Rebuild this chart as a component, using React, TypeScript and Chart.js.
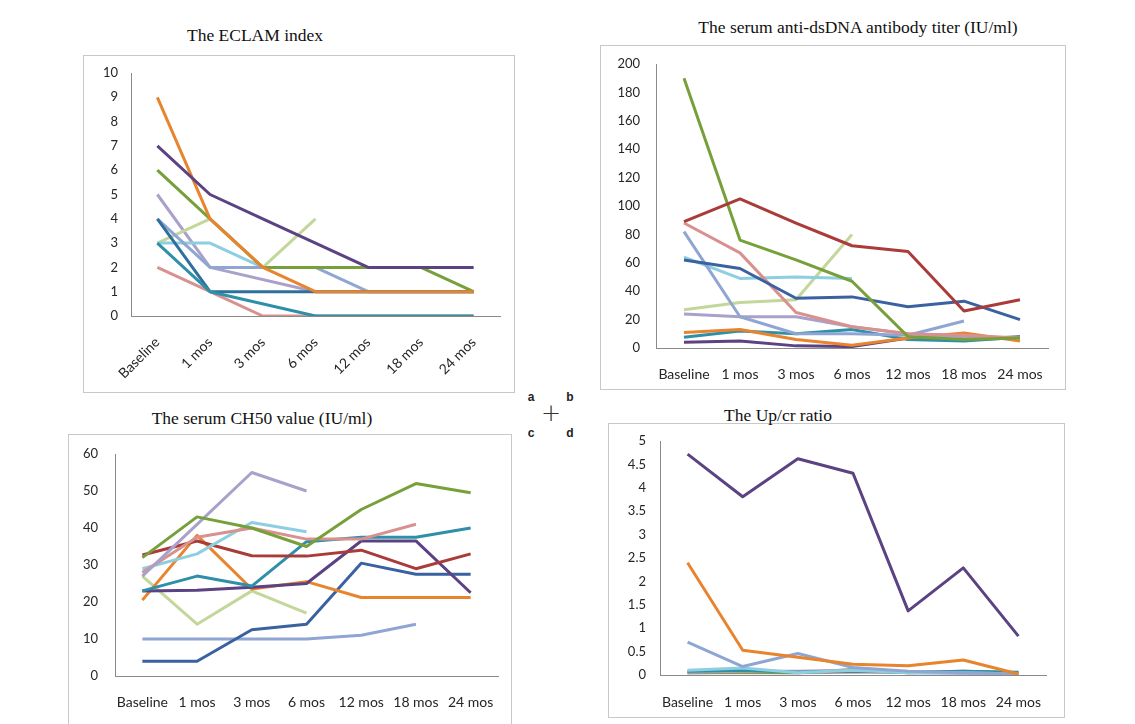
import React, { useEffect, useRef } from "react";
import { Chart, registerables } from "chart.js";

Chart.register(...registerables);

// ---------- categories ----------
const categories = ["Baseline", "1 mos", "3 mos", "6 mos", "12 mos", "18 mos", "24 mos"];

// ---------- (a) The ECLAM index ----------
const eclamPink = [2, 1, 0, 0, 0, 0, 0];
const eclamTeal = [3, 1, null, 0, 0, 0, 0];
const eclamLavender = [5, 2, null, 1, 1, 1, 1];
const eclamDarkBlue = [4, 1, 1, 1, 1, 1, 1];
const eclamPeriwinkle = [4, 2, 2, 2, 1, 1, 1];
const eclamSkyBlue = [3, 3, 2, 2, null, null, null];
const eclamLightGreen = [3, 4, 2, 4, null, null, null];
const eclamGreen = [6, 4, 2, 2, 2, 2, 1];
const eclamOrange = [9, 4, 2, 1, 1, 1, 1];
const eclamDarkPurple = [7, 5, 4, 3, 2, 2, 2];

// ---------- (b) anti-dsDNA antibody titer ----------
const dsdnaDarkPurple = [4, 5, 1.5, 1, 7, 6, 8];
const dsdnaTeal = [7.5, 12, 10, 13, 6, 5, 7.5];
const dsdnaOrange = [11, 13, 6, 2, 7, 10.5, 5];
const dsdnaLavender = [24, 22, 22, 15, 10, 8, 7];
const dsdnaLightGreen = [27, 32, 34, 80, null, null, null];
const dsdnaSkyBlue = [64, 49, 50, 49, null, null, null];
const dsdnaPeriwinkle = [82, 22, 10, 10, 9, 19, null];
const dsdnaPink = [88, 67, 25, 15, 10, 9, 7];
const dsdnaDarkBlue = [62, 56, 35, 36, 29, 33, 20];
const dsdnaGreen = [190, 76, 62, 47, 8, 6, 7];
const dsdnaDarkRed = [89, 105, 88, 72, 68, 26, 34];

// ---------- (c) CH50 value ----------
const ch50Periwinkle = [10, 10, 10, 10, 11, 14, null];
const ch50LightGreen = [27, 14, 23, 17, null, null, null];
const ch50DarkBlue = [4, 4, 12.5, 14, 30.5, 27.5, 27.5];
const ch50Orange = [20.5, 38, 23.5, 25.5, 21.2, 21.2, 21.2];
const ch50DarkPurple = [23, 23.2, 24, 25, 36.5, 36.5, 22.5];
const ch50Teal = [23, 27, 24.3, 36.3, 37.5, 37.5, 40];
const ch50DarkRed = [32.7, 36.5, 32.5, 32.4, 34, 29, 33];
const ch50SkyBlue = [29, 33, 41.5, 39, null, null, null];
const ch50Pink = [28, 37.5, 40, 37, 37, 41, null];
const ch50Lavender = [27, 41, 55, 50, null, null, null];
const ch50Green = [32, 43, 40, 35, 45, 52, 49.5];

// ---------- (d) Up/cr ratio ----------
const upcrPink = [0.05, 0.05, 0.05, 0.06, 0.06, 0.05, 0.05];
const upcrGreen = [0.05, 0.06, 0.05, 0.12, 0.05, 0.08, 0.05];
const upcrLavender = [0.06, 0.08, 0.08, 0.1, 0.05, 0.04, 0.03];
const upcrTeal = [0.08, 0.1, 0.06, 0.08, 0.06, 0.08, 0.06];
const upcrSkyBlue = [0.1, 0.15, 0.05, 0.1, 0.05, 0.05, 0.02];
const upcrPeriwinkle = [0.7, 0.18, 0.46, 0.16, 0.08, 0.05, 0.02];
const upcrOrange = [2.4, 0.53, 0.38, 0.23, 0.2, 0.32, 0.02];
const upcrDarkPurple = [4.72, 3.81, 4.62, 4.31, 1.37, 2.29, 0.83];

// ---------- styles ----------
const COL = {
  darkBlue: "#3A62A0",
  darkRed: "#AA3B38",
  green: "#77A03A",
  darkPurple: "#5B4282",
  teal: "#2E8FA8",
  orange: "#E8842E",
  periwinkle: "#8FA6D3",
  pink: "#D9918F",
  lightGreen: "#C3D79B",
  lavender: "#A9A1C9",
  skyBlue: "#8DCFE1",
};

type Series = { data: (number | null)[]; color: string };

type PanelCfg = {
  left: number;
  top: number;
  plotW: number;
  plotH: number;
  yW: number;
  padTop: number;
  padRight: number;
  xH: number;
  yMax: number;
  step: number;
  yPad: number;
  xPad: number;
  rotate: number;
  xFont: number;
  series: Series[];
};

const panelA: PanelCfg = {
  left: 131, top: 73, plotW: 369, plotH: 243, yW: 50, padTop: 12, padRight: 10, xH: 75,
  yMax: 10, step: 1, yPad: 13, xPad: 18, rotate: 45, xFont: 14,
  series: [
    { data: eclamDarkPurple, color: COL.darkPurple },
    { data: eclamOrange, color: COL.orange },
    { data: eclamGreen, color: COL.green },
    { data: eclamTeal, color: COL.teal },
    { data: eclamPink, color: COL.pink },
    { data: eclamDarkBlue, color: "#2F6F9C" },
    { data: eclamPeriwinkle, color: COL.periwinkle },
    { data: eclamSkyBlue, color: COL.skyBlue },
    { data: eclamLightGreen, color: COL.lightGreen },
    { data: eclamLavender, color: COL.lavender },
  ],
};

const panelB: PanelCfg = {
  left: 656, top: 64, plotW: 392, plotH: 284, yW: 50, padTop: 12, padRight: 10, xH: 40,
  yMax: 200, step: 20, yPad: 16, xPad: 18, rotate: 0, xFont: 14,
  series: [
    { data: dsdnaDarkRed, color: COL.darkRed },
    { data: dsdnaGreen, color: COL.green },
    { data: dsdnaDarkBlue, color: COL.darkBlue },
    { data: dsdnaPink, color: COL.pink },
    { data: dsdnaPeriwinkle, color: COL.periwinkle },
    { data: dsdnaSkyBlue, color: COL.skyBlue },
    { data: dsdnaLightGreen, color: COL.lightGreen },
    { data: dsdnaLavender, color: COL.lavender },
    { data: dsdnaOrange, color: COL.orange },
    { data: dsdnaTeal, color: COL.teal },
    { data: dsdnaDarkPurple, color: COL.darkPurple },
  ],
};

const panelC: PanelCfg = {
  left: 115, top: 454, plotW: 383, plotH: 222, yW: 50, padTop: 12, padRight: 10, xH: 40,
  yMax: 60, step: 10, yPad: 17, xPad: 18, rotate: 0, xFont: 14,
  series: [
    { data: ch50Green, color: COL.green },
    { data: ch50Lavender, color: COL.lavender },
    { data: ch50Pink, color: COL.pink },
    { data: ch50SkyBlue, color: COL.skyBlue },
    { data: ch50DarkRed, color: COL.darkRed },
    { data: ch50Teal, color: COL.teal },
    { data: ch50DarkPurple, color: COL.darkPurple },
    { data: ch50Orange, color: COL.orange },
    { data: ch50DarkBlue, color: COL.darkBlue },
    { data: ch50LightGreen, color: COL.lightGreen },
    { data: ch50Periwinkle, color: COL.periwinkle },
  ],
};

const panelD: PanelCfg = {
  left: 660, top: 441, plotW: 386, plotH: 234, yW: 50, padTop: 12, padRight: 10, xH: 40,
  yMax: 5, step: 0.5, yPad: 14, xPad: 19, rotate: 0, xFont: 14,
  series: [
    { data: upcrDarkPurple, color: COL.darkPurple },
    { data: upcrOrange, color: COL.orange },
    { data: upcrPeriwinkle, color: COL.periwinkle },
    { data: upcrSkyBlue, color: COL.skyBlue },
    { data: upcrTeal, color: COL.teal },
    { data: upcrLavender, color: COL.lavender },
    { data: upcrGreen, color: COL.green },
    { data: upcrPink, color: COL.pink },
  ],
};

const FONT_FAMILY = "Lato, 'Open Sans', sans-serif";
const TICK_COLOR = "#262626";
const AXIS_COLOR = "#8a8a8a";

function zeroPadding(s: any) {
  s.paddingTop = 0;
  s.paddingBottom = 0;
  s.paddingLeft = 0;
  s.paddingRight = 0;
}

function LinePanel({ cfg }: { cfg: PanelCfg }) {
  const ref = useRef<HTMLCanvasElement | null>(null);
  const cw = cfg.yW + cfg.plotW + cfg.padRight;
  const ch = cfg.padTop + cfg.plotH + cfg.xH;
  useEffect(() => {
    if (!ref.current) return;
    const chart = new Chart(ref.current, {
      type: "line",
      data: {
        labels: categories,
        datasets: cfg.series.map((s) => ({
          data: s.data,
          borderColor: s.color,
          backgroundColor: s.color,
          borderWidth: 3,
          pointRadius: 0,
          tension: 0,
          spanGaps: true,
          fill: false,
          borderJoinStyle: "round" as const,
        })),
      },
      options: {
        animation: false,
        responsive: false,
        maintainAspectRatio: false,
        layout: { padding: { top: cfg.padTop, right: cfg.padRight, left: 0, bottom: 0 } },
        plugins: { legend: { display: false }, tooltip: { enabled: false }, title: { display: false } },
        scales: {
          x: {
            type: "category",
            offset: true,
            grid: { display: false, drawTicks: false },
            border: { display: true, color: AXIS_COLOR, width: 1 },
            ticks: {
              font: { family: FONT_FAMILY, size: cfg.xFont },
              color: TICK_COLOR,
              padding: cfg.xPad,
              autoSkip: false,
              maxRotation: cfg.rotate,
              minRotation: cfg.rotate,
            },
            afterFit: (s: any) => {
              s.height = cfg.xH;
              zeroPadding(s);
            },
          },
          y: {
            min: 0,
            max: cfg.yMax,
            grid: { display: false, drawTicks: false },
            border: { display: true, color: AXIS_COLOR, width: 1 },
            ticks: {
              stepSize: cfg.step,
              font: { family: FONT_FAMILY, size: 13 },
              color: TICK_COLOR,
              padding: cfg.yPad,
              callback: (v: any) => String(Number(v)),
            },
            afterFit: (s: any) => {
              s.width = cfg.yW;
              zeroPadding(s);
            },
          },
        },
      },
    });
    return () => chart.destroy();
  }, [cfg]);
  return (
    <canvas
      ref={ref}
      width={cw}
      height={ch}
      style={{
        position: "absolute",
        left: cfg.left - cfg.yW,
        top: cfg.top - cfg.padTop,
        width: cw,
        height: ch,
      }}
    />
  );
}

const titleStyle = (cx: number, cy: number): React.CSSProperties => ({
  position: "absolute",
  left: cx - 250,
  top: cy - 11,
  width: 500,
  height: 22,
  lineHeight: "22px",
  textAlign: "center",
  fontFamily: "'Liberation Serif', 'DejaVu Serif', serif",
  fontSize: 17.5,
  color: "#111",
  whiteSpace: "nowrap",
});

const frame = (l: number, t: number, r: number, b: number): React.CSSProperties => ({
  position: "absolute",
  left: l,
  top: t,
  width: r - l,
  height: b - t,
  border: "1px solid #c8c8c8",
  boxSizing: "border-box",
});

const letter = (x: number, y: number): React.CSSProperties => ({
  position: "absolute",
  left: x - 6,
  top: y - 8,
  width: 12,
  height: 16,
  lineHeight: "16px",
  textAlign: "center",
  fontFamily: "'Liberation Sans', Arial, sans-serif",
  fontWeight: "bold",
  fontSize: 12,
  color: "#222",
});

export default function App() {
  return (
    <div
      style={{
        position: "absolute",
        left: 0,
        top: 0,
        width: 1135,
        height: 724,
        overflow: "hidden",
        background: "#fff",
      }}
    >
      <div style={frame(83, 55, 515, 393)} />
      <div style={frame(600, 45, 1066, 390)} />
      <div style={frame(68, 434, 512, 740)} />
      <div style={frame(608, 423, 1065, 718)} />

      <div style={titleStyle(255, 35)}>The ECLAM index</div>
      <div style={titleStyle(858, 27)}>The serum anti-dsDNA antibody titer (IU/ml)</div>
      <div style={titleStyle(262, 418)}>The serum CH50 value (IU/ml)</div>
      <div style={titleStyle(778, 415)}>The Up/cr ratio</div>

      <LinePanel cfg={panelA} />
      <LinePanel cfg={panelB} />
      <LinePanel cfg={panelC} />
      <LinePanel cfg={panelD} />

      <div style={letter(531, 397)}>a</div>
      <div style={letter(570, 397)}>b</div>
      <div style={letter(531, 433)}>c</div>
      <div style={letter(570, 433)}>d</div>
      <div
        style={{
          position: "absolute",
          left: 540,
          top: 400,
          width: 22,
          height: 26,
          lineHeight: "26px",
          textAlign: "center",
          fontFamily: "'DejaVu Sans', sans-serif",
          fontWeight: 200,
          fontSize: 24,
          color: "#333",
        }}
      >
        +
      </div>
    </div>
  );
}
